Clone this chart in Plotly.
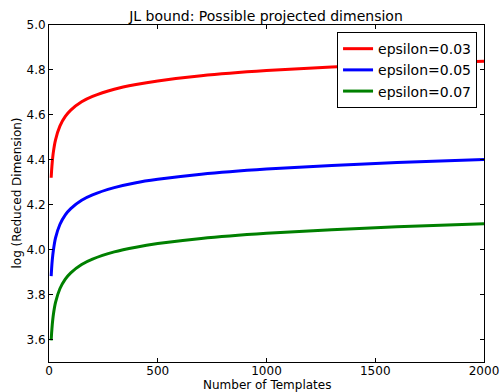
import plotly.graph_objects as go

templates = [10, 12, 15, 20, 30, 50, 75, 100, 150, 200, 300, 400, 500, 700, 1000, 1300, 1600, 2000]
eps_003 = [4.320, 4.353, 4.390, 4.434, 4.489, 4.550, 4.593, 4.621, 4.658, 4.682, 4.714, 4.735, 4.751, 4.774, 4.797, 4.813, 4.826, 4.839]
eps_005 = [3.882, 3.915, 3.953, 3.996, 4.052, 4.112, 4.155, 4.183, 4.220, 4.244, 4.276, 4.298, 4.313, 4.336, 4.359, 4.375, 4.388, 4.401]
eps_007 = [3.596, 3.629, 3.666, 3.710, 3.765, 3.826, 3.869, 3.897, 3.934, 3.958, 3.990, 4.011, 4.027, 4.050, 4.073, 4.089, 4.102, 4.115]

series = [("epsilon=0.03", eps_003, "#ff0000"),
          ("epsilon=0.05", eps_005, "#0000ff"),
          ("epsilon=0.07", eps_007, "#008000")]

y_ticks = [3.6, 3.8, 4.0, 4.2, 4.4, 4.6, 4.8, 5.0]
x_ticks = [0, 500, 1000, 1500, 2000]

fig = go.Figure()
for name, ys, color in series:
    fig.add_trace(go.Scatter(x=templates, y=ys, mode="lines", name=name,
                             line=dict(color=color, width=3, shape="spline", smoothing=0.6)))

font = dict(family="DejaVu Sans", size=12, color="black")
fig.update_layout(
    width=500, height=392,
    margin=dict(l=49, r=16, t=25, b=30),
    paper_bgcolor="white", plot_bgcolor="white",
    font=font,
    title=dict(text="JL bound: Possible projected dimension", x=0.532, xanchor="center",
               y=0.96, yanchor="middle", font=dict(family="DejaVu Sans", size=14, color="black")),
    legend=dict(x=0.984, y=0.979, xanchor="right", yanchor="top",
                bordercolor="black", borderwidth=1, bgcolor="white",
                font=dict(family="DejaVu Sans", size=14, color="black"),
                tracegroupgap=0, itemwidth=30),
    showlegend=True,
    annotations=[
        dict(text="Number of Templates", xref="paper", yref="paper", x=0.5, y=-0.069,
             xanchor="center", yanchor="middle", showarrow=False,
             font=dict(family="DejaVu Sans", size=12, color="black")),
        dict(text="log (Reduced Dimension)", xref="paper", yref="paper", x=-0.0758, y=0.5,
             xanchor="center", yanchor="middle", showarrow=False, textangle=-90,
             font=dict(family="DejaVu Sans", size=12, color="black")),
    ],
)
fig.update_xaxes(range=[0, 2000], tickvals=x_ticks, ticktext=[str(v) for v in x_ticks],
                 showgrid=False, zeroline=False, showline=True, linecolor="black", linewidth=1,
                 mirror="ticks", ticks="inside", ticklen=4, tickcolor="black",
                 ticklabelstandoff=-2,
                 automargin=False, tickfont=dict(size=12))
fig.update_yaxes(range=[3.5, 5.0], tickvals=y_ticks, ticktext=["%.1f" % v for v in y_ticks],
                 showgrid=False, zeroline=False, showline=True, linecolor="black", linewidth=1,
                 mirror="ticks", ticks="inside", ticklen=4, tickcolor="black",
                 automargin=False, tickfont=dict(size=12))

fig.write_html("out.html")
